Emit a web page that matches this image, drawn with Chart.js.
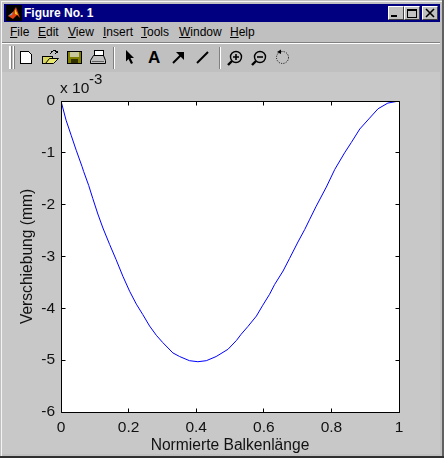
<!DOCTYPE html>
<html><head><meta charset="utf-8">
<script src="https://cdn.jsdelivr.net/npm/chart.js@4"></script>
<style>
html,body{margin:0;padding:0;width:444px;height:458px;overflow:hidden;background:#c0c0c0;font-family:"Liberation Sans",Arial,sans-serif}
#win{position:absolute;left:0;top:0;width:444px;height:458px;box-sizing:border-box;background:#c0c0c0;overflow:hidden}
.abs{position:absolute}
#outerL{left:1px;top:1px;width:1px;height:456px;background:#f4f4f4}
#outerT{left:1px;top:1px;width:442px;height:1px;background:#f4f4f4}
#outerR{left:442px;top:0;width:2px;height:458px;background:#606060}
#outerB{left:0;top:456px;width:444px;height:2px;background:#303030}
#title{left:4px;top:4px;width:436px;height:18px;background:#000080;color:#fff;font-weight:bold;font-size:12px;line-height:18px}
#title span{position:absolute;left:20px;top:0;white-space:nowrap}
.wb{position:absolute;top:6px;width:16px;height:14px;background:#c0c0c0;border-top:1px solid #fff;border-left:1px solid #fff;border-right:1px solid #404040;border-bottom:1px solid #404040;box-sizing:border-box}
.m{position:absolute;top:24px;font-size:12px;line-height:17px;color:#000;white-space:nowrap}
#sep1{left:2px;top:42px;width:438px;height:1px;background:#808080}
#sep1b{left:2px;top:43px;width:438px;height:1px;background:#fff}
#fig{left:2px;top:72px;width:438px;height:382px;background:#c8c8c8}
canvas#c{position:absolute;left:0;top:0}
.t{position:absolute;color:#111;white-space:nowrap}
svg.ic{position:absolute;left:0;top:0}
</style></head><body>
<div id="win">
<div class="abs" id="outerL"></div><div class="abs" id="outerT"></div><div class="abs" id="outerR"></div><div class="abs" id="outerB"></div>
<div class="abs" id="title"><span>Figure No. 1</span></div>
<div class="wb" style="left:388px"></div><div class="wb" style="left:404px"></div><div class="wb" style="left:422px"></div>
<div class="m" style="left:10px"><u>F</u>ile</div>
<div class="m" style="left:38px"><u>E</u>dit</div>
<div class="m" style="left:68px"><u>V</u>iew</div>
<div class="m" style="left:103px"><u>I</u>nsert</div>
<div class="m" style="left:141px"><u>T</u>ools</div>
<div class="m" style="left:179px"><u>W</u>indow</div>
<div class="m" style="left:230px"><u>H</u>elp</div>
<div class="abs" id="sep1"></div><div class="abs" id="sep1b"></div>
<div class="abs" id="fig"></div>
<svg class="ic" width="444" height="72" xmlns="http://www.w3.org/2000/svg" shape-rendering="crispEdges">
  <rect x="6" y="5" width="16" height="16" fill="#000"/>
  <path d="M8 16 L13 12 L16 7 L20 18 L17 15 L13 19 Z" fill="#e04010" shape-rendering="auto"/>
  <path d="M8 16 L13 12 L12 15 Z" fill="#7fa0c0" shape-rendering="auto"/>
  <path d="M15 9 L18 15 L15 14 Z" fill="#f0d020" shape-rendering="auto"/>
  <rect x="391" y="15" width="6" height="2" fill="#000"/>
  <rect x="407.5" y="9.5" width="9" height="8" fill="none" stroke="#000"/><rect x="407" y="9" width="10" height="2" fill="#000"/>
  <path d="M426 9 L434 17 M434 9 L426 17" stroke="#000" stroke-width="1.6" shape-rendering="auto"/>
  <rect x="9" y="46" width="2" height="23" fill="#fff"/><rect x="11" y="46" width="1" height="23" fill="#808080"/>
  <rect x="13" y="46" width="1" height="23" fill="#fff"/><rect x="14" y="46" width="1" height="23" fill="#808080"/>
  <rect x="113" y="47" width="1" height="22" fill="#808080"/><rect x="114" y="47" width="1" height="22" fill="#fff"/>
  <rect x="219" y="47" width="1" height="22" fill="#808080"/><rect x="220" y="47" width="1" height="22" fill="#fff"/>
  <path d="M20.5 51.5 H28.5 L31.5 54.5 V63.5 H20.5 Z" fill="#fff" stroke="#000"/>
  <path d="M42.5 56.5 H52.5 V63.5 H42.5 Z" fill="#d8d860" stroke="#000"/>
  <path d="M45.5 63.5 L49.5 58.5 H58.5 L53.5 63.5 Z" fill="#e8e870" stroke="#000" shape-rendering="auto"/>
  <path d="M50 54 Q53 49 57 52 M55 50 L57.5 52 L55 53.5" fill="none" stroke="#000"/>
  <rect x="67.5" y="51.5" width="14" height="12" fill="#808000" stroke="#000"/>
  <rect x="70" y="52" width="9" height="5" fill="#c8c8a0"/><rect x="71" y="59" width="7" height="4" fill="#303000"/>
  <path d="M90.5 60.5 L93.5 55.5 H103.5 L105.5 60.5 V63.5 H90.5 Z" fill="#c0c0c0" stroke="#000" shape-rendering="auto"/>
  <rect x="94.5" y="50.5" width="9" height="5" fill="#fff" stroke="#000"/>
  <rect x="92" y="61" width="12" height="1" fill="#606060"/>
  <path d="M126 50 L134 58 L130.5 58 L133 63 L131 64 L128.5 59 L126 61.5 Z" fill="#000" shape-rendering="auto"/>
  <text x="148" y="63" font-family="Liberation Sans" font-weight="bold" font-size="17" fill="#000" shape-rendering="auto">A</text>
  <path d="M173 63 L182 54" stroke="#000" stroke-width="2" shape-rendering="auto"/>
  <path d="M176 52 H184 V60 Z" fill="#000" shape-rendering="auto"/>
  <path d="M197 63 L208 52" stroke="#000" stroke-width="2" shape-rendering="auto"/>
  <g shape-rendering="auto">
    <circle cx="236" cy="57" r="5.5" fill="none" stroke="#000" stroke-width="1.4"/>
    <path d="M228 65 L232 61" stroke="#000" stroke-width="2.4"/>
    <path d="M233 57 H239 M236 54 V60" stroke="#000" stroke-width="1.6"/>
    <circle cx="260" cy="57" r="5.5" fill="none" stroke="#000" stroke-width="1.4"/>
    <path d="M252 65 L256 61" stroke="#000" stroke-width="2.4"/>
    <path d="M257 57 H263" stroke="#000" stroke-width="1.6"/>
    <circle cx="282.5" cy="57.5" r="6" fill="none" stroke="#000" stroke-width="1" stroke-dasharray="1 1.4"/>
    <path d="M277 52 L281 49.5 L281 54 Z" fill="#000"/>
  </g>
</svg>
</div>
<canvas id="c" width="444" height="458"></canvas>
<div class="t" style="left:60px;top:80px;font-size:15.5px;line-height:16px">x 10</div>
<div class="t" style="left:89px;top:71px;font-size:15px;line-height:15px">-3</div>
<script>
const positions = [0,.015,.030,.045,.062,.067,.082,.094,.109,.124,.144,.163,.183,.203,.223,.242,.262,.282,.301,.331,.351,.380,.405,.430,.459,.494,.519,.533,.553,.578,.597,.617,.632,.657,.676,.701,.721,.736,.755,.785,.810,.839,.859,.884,.913,.938,.967,1];
const deflection = [0,-.37,-.66,-.95,-1.26,-1.36,-1.63,-1.88,-2.18,-2.45,-2.77,-3.06,-3.38,-3.67,-3.92,-4.12,-4.34,-4.52,-4.66,-4.86,-4.93,-5.01,-5.03,-5.01,-4.93,-4.79,-4.62,-4.50,-4.35,-4.15,-3.94,-3.73,-3.54,-3.28,-3.04,-2.72,-2.48,-2.28,-2.03,-1.66,-1.32,-1.00,-.80,-.54,-.33,-.15,-.04,0];
const xLabel = "Normierte Balkenlänge";
const yLabel = "Verschiebung (mm)";

const frame = {
  id:'frame',
  afterDatasetsDraw(ch){
    const {ctx,chartArea:a,scales:{x,y}} = ch;
    const L=Math.floor(a.left)+.5,R=Math.floor(a.right)+.5,T=Math.floor(a.top)+.5,B=Math.floor(a.bottom)+.5;
    ctx.save();
    ctx.strokeStyle='#000';ctx.lineWidth=1;
    ctx.beginPath();
    ctx.rect(L,T,R-L,B-T);
    x.ticks.forEach(t=>{const p=Math.floor(x.getPixelForValue(t.value))+.5;
      ctx.moveTo(p,T);ctx.lineTo(p,T+4);ctx.moveTo(p,B);ctx.lineTo(p,B-4);});
    y.ticks.forEach(t=>{const p=Math.floor(y.getPixelForValue(t.value))+.5;
      ctx.moveTo(L,p);ctx.lineTo(L+4,p);ctx.moveTo(R,p);ctx.lineTo(R-4,p);});
    ctx.stroke();ctx.restore();
  }
};
const font={family:'"Liberation Sans",Arial,sans-serif',size:15.5};
const titleFont={family:'"Liberation Sans",Arial,sans-serif',size:15.6};
new Chart(document.getElementById('c'),{
  type:'scatter',
  data:{datasets:[{data:positions.map((v,i)=>({x:v,y:deflection[i]})),showLine:true,borderColor:'#0000ff',borderWidth:1,pointRadius:0,tension:0,fill:false}]},
  plugins:[frame,{id:'bg',beforeDatasetsDraw(ch){const a=ch.chartArea,c=ch.ctx;c.save();c.fillStyle='#fff';c.fillRect(a.left,a.top,a.right-a.left,a.bottom-a.top);c.restore();}}],
  options:{
    responsive:false,animation:false,
    layout:{autoPadding:false,padding:{left:0,right:45,top:101,bottom:0}},
    plugins:{legend:{display:false},tooltip:{enabled:false}},
    scales:{
      x:{type:'linear',min:0,max:1,
        afterFit(s){s.height=46;},
        grid:{display:false,drawTicks:false},border:{display:false},
        ticks:{stepSize:.2,color:'#111',font,padding:6,maxRotation:0,callback:v=>String(+v.toFixed(1))},
        title:{display:true,text:xLabel,color:'#111',font:titleFont,padding:{top:0,bottom:3}}},
      y:{type:'linear',min:-6,max:0,
        afterFit(s){s.width=61;},
        grid:{display:false,drawTicks:false},border:{display:false},
        ticks:{stepSize:1,color:'#111',font,padding:6,callback:v=>String(+v.toFixed(0))},
        title:{display:true,text:yLabel,color:'#111',font:titleFont,padding:{top:18,bottom:0}}}
    }
  }
});
</script>
</body></html>
